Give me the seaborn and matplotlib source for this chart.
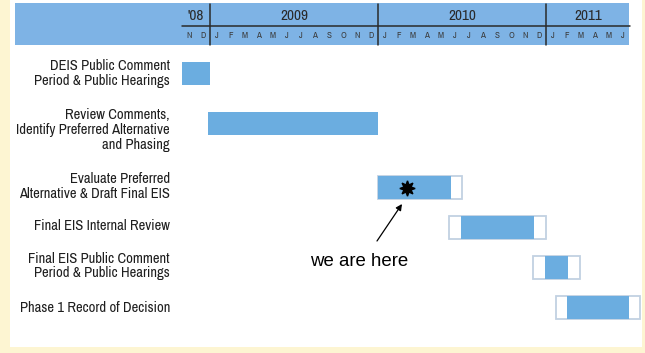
import numpy as np
import pandas as pd
import matplotlib
matplotlib.use("Agg")
import matplotlib.pyplot as plt
from matplotlib import font_manager as fm
import seaborn as sns

# ---------------- data ----------------
# timeline: month index 0 = Nov 2008 ... 32 = end of Jun 2011
years = ["'08", "2009", "2010", "2011"]
year_months = [2, 12, 12, 6]
month_letters = ["N", "D",
                 "J", "F", "M", "A", "M", "J", "J", "A", "S", "O", "N", "D",
                 "J", "F", "M", "A", "M", "J", "J", "A", "S", "O", "N", "D",
                 "J", "F", "M", "A", "M", "J"]

tasks = ["DEIS Public Comment\nPeriod & Public Hearings",
         "Review Comments,\nIdentify Preferred Alternative\nand Phasing",
         "Evaluate Preferred\nAlternative & Draft Final EIS",
         "Final EIS Internal Review",
         "Final EIS Public Comment\nPeriod & Public Hearings",
         "Phase 1 Record of Decision"]
solid_start = [0.0, 1.85, 14.0, 19.95, 25.9, 27.5]
solid_end = [2.0, 14.0, 19.2, 25.15, 27.6, 31.9]
window_start = [None, None, 14.0, 19.1, 25.1, 26.7]
window_end = [None, None, 20.0, 26.0, 28.4, 32.7]
now_month = 16.1   # "we are here"

# ---------------- layout (pixels) ----------------
W, H = 645, 353
X0, PPM = 182, 14.0           # timeline origin in px, px per month
row_y = [73.5, 123, 187.5, 227, 267.5, 307.5]
label_y = [73.5, 130, 186.5, 226, 266, 307.5]
BAR_PX = 23
LABEL_MAX_W = 158             # widest label line in px


def m(xpx):
    return (xpx - X0) / PPM


YELLOW = "#fdf5d2"
HEAD = "#7eb3e5"
BLUE = "#6badE0".lower()
OUTLINE = "#c2d1e2"
DARK = "#2a2a2a"

sns.set_theme(style="white")

# pick a narrow font if one is installed
narrow = None
for f in fm.fontManager.ttflist:
    nm = f.name.lower()
    if "narrow" in nm or "condensed" in nm:
        narrow = dict(family=f.name, stretch="normal")
        break
if narrow is None:
    for f in fm.fontManager.ttflist:
        if f.name == "DejaVu Sans" and str(f.stretch) in ("condensed", "semi-condensed"):
            narrow = dict(family="DejaVu Sans", stretch=f.stretch)
            break
if narrow is None:
    narrow = dict(family="Roboto", stretch="normal")

plt.rcParams["font.family"] = [narrow["family"], "Liberation Sans", "DejaVu Sans"]

fig = plt.figure(figsize=(W / 100, H / 100), dpi=100, facecolor=YELLOW)
ax = fig.add_axes([0, 0, 1, 1])
ax.set_facecolor(YELLOW)

# white panel
ax.add_patch(plt.Rectangle((m(10), 0), m(642) - m(10), 347, facecolor="white",
                           edgecolor="none", zorder=0))
# header band
ax.add_patch(plt.Rectangle((m(15), 3), m(629) - m(15), 42, facecolor=HEAD,
                           edgecolor="none", zorder=1))

total = sum(year_months)
ax.plot([0, total], [26, 26], color=DARK, lw=1.1, zorder=3)
bounds = np.cumsum(year_months)[:-1]
for b in bounds:
    ax.plot([b, b], [4, 45], color=DARK, lw=1.1, zorder=3)
start = 0
for yname, n in zip(years, year_months):
    ax.text(start + n / 2, 16.5, yname, ha="center", va="center", fontsize=11,
            fontstretch=narrow["stretch"], color=DARK, zorder=4)
    start += n
for i, lt in enumerate(month_letters):
    ax.text(i + 0.5, 36, lt, ha="center", va="center", fontsize=6.5,
            fontweight="bold", fontstretch=narrow["stretch"], color="#3a3a3a", zorder=4)

# ---------------- bars via seaborn ----------------
df = pd.DataFrame({"task": tasks, "row": row_y, "s": solid_start, "e": solid_end,
                   "ws": window_start, "we": window_end})
df["dur"] = df["e"] - df["s"]
win = df.dropna(subset=["ws"]).copy()
win["wdur"] = win["we"] - win["ws"]

w_win = BAR_PX / np.diff(np.sort(win["row"].values)).min()
sns.barplot(data=win, x="wdur", y="row", orient="y", native_scale=True,
            left=win["ws"].values, width=w_win, color="white", saturation=1,
            edgecolor=OUTLINE, linewidth=1.3, errorbar=None, ax=ax, zorder=2)
w_sol = BAR_PX / np.diff(np.sort(df["row"].values)).min()
sns.barplot(data=df, x="dur", y="row", orient="y", native_scale=True,
            left=df["s"].values, width=w_sol, color=BLUE, saturation=1,
            linewidth=0, errorbar=None, ax=ax, zorder=3)

ax.set_xlim(m(0), m(W))
ax.set_ylim(H, 0)
ax.axis("off")

# task labels, sized so the widest line fits the reference width
label_texts = []
for lab, yy in zip(tasks, label_y):
    t = ax.text(m(170), yy, lab, ha="right", va="center", fontsize=10.5,
                fontstretch=narrow["stretch"], color="#1e1e1e",
                linespacing=1.05, zorder=4)
    label_texts.append(t)
fig.canvas.draw()
renderer = fig.canvas.get_renderer()
widest = 0
for lab in tasks:
    for line in lab.split("\n"):
        tt = ax.text(0, 0, line, fontsize=10.5, fontstretch=narrow["stretch"])
        widest = max(widest, tt.get_window_extent(renderer).width)
        tt.remove()
scale = min(1.0, LABEL_MAX_W / widest)
for t in label_texts:
    t.set_fontsize(10.5 * scale)
    t.set_linespacing(1.05 / max(scale, 0.85))

# we are here
ax.plot([now_month], [187.5], marker=(8, 1, 0), markersize=11, color="black", zorder=5)
ax.annotate("", xy=(m(402), 204), xytext=(m(377), 241),
            arrowprops=dict(arrowstyle="-|>", color="black", lw=0.9,
                            mutation_scale=9, shrinkA=0, shrinkB=0), zorder=5)
ax.text(m(359), 266, "we are here", ha="center", va="baseline", fontsize=13.4,
        family=["Liberation Sans", "DejaVu Sans"], color="black", zorder=5)

fig.savefig("out.png", dpi=100, facecolor=YELLOW)
